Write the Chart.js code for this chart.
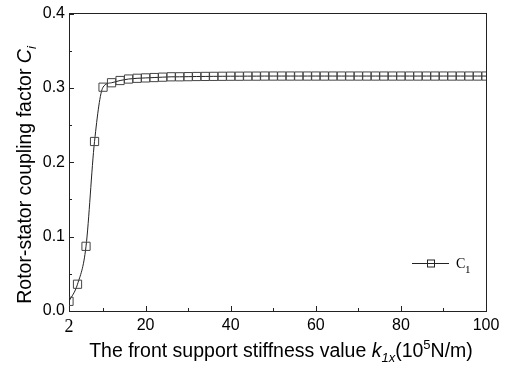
<!DOCTYPE html>
<html>
<head>
<meta charset="utf-8">
<script src="https://cdn.jsdelivr.net/npm/chart.js@4/dist/chart.umd.min.js"></script>
<style>
  html, body { margin: 0; padding: 0; background: #fff; }
  #wrap { width: 507px; height: 368px; }
</style>
</head>
<body>
<div id="wrap"><canvas id="c" width="507" height="368"></canvas></div>
<script>
// stiffness values k1x (10^5 N/m)
const kValues = [];
for (let k = 2; k <= 100; k += 2) kValues.push(k);

// coupling factor C1
const c1Values = [
  0.013, 0.036, 0.087, 0.228, 0.301, 0.307, 0.310, 0.312, 0.313, 0.3135,
  0.314, 0.3145, 0.315, 0.315, 0.3152, 0.3154, 0.3155, 0.3156, 0.3157, 0.3158,
  0.3158, 0.3159, 0.3159, 0.316, 0.316, 0.316, 0.316, 0.316, 0.316, 0.316,
  0.316, 0.316, 0.316, 0.316, 0.316, 0.316, 0.316, 0.316, 0.316, 0.316,
  0.316, 0.316, 0.316, 0.316, 0.316, 0.316, 0.316, 0.316, 0.316, 0.316
];

const xMajor = [2, 20, 40, 60, 80, 100];
const xMinor = [10, 30, 50, 70, 90];
const yMajor = [0, 0.1, 0.2, 0.3, 0.4];
const yMinor = [0.05, 0.15, 0.25, 0.35];

const FONT = '"Liberation Sans", Arial, sans-serif';
const SERIF = '"Liberation Serif", "Times New Roman", serif';
const INK = '#222';

// inward ticks, axis titles with sub/superscripts, legend
const decorations = {
  id: 'decorations',
  afterDraw(chart) {
    const ctx = chart.ctx;
    const xs = chart.scales.x, ys = chart.scales.y;
    const a = chart.chartArea;
    ctx.save();
    ctx.strokeStyle = INK;
    ctx.lineWidth = 1;
    ctx.beginPath();
    xMajor.forEach(v => { const p = Math.round(xs.getPixelForValue(v)) + 0.5; ctx.moveTo(p, a.bottom); ctx.lineTo(p, a.bottom - 5); });
    xMinor.forEach(v => { const p = Math.round(xs.getPixelForValue(v)) + 0.5; ctx.moveTo(p, a.bottom); ctx.lineTo(p, a.bottom - 3); });
    yMajor.forEach(v => { const p = Math.round(ys.getPixelForValue(v)) + 0.5; ctx.moveTo(a.left, p); ctx.lineTo(a.left + 5, p); });
    yMinor.forEach(v => { const p = Math.round(ys.getPixelForValue(v)) + 0.5; ctx.moveTo(a.left, p); ctx.lineTo(a.left + 3, p); });
    ctx.stroke();

    ctx.fillStyle = '#000';
    ctx.textBaseline = 'alphabetic';

    // x title
    const parts = [
      { t: 'The front support stiffness value ', f: '19.5px ' + FONT, dy: 0 },
      { t: 'k', f: 'italic 19.5px ' + FONT, dy: 0 },
      { t: '1x', f: 'italic 13px ' + FONT, dy: 5 },
      { t: '(10', f: '19.5px ' + FONT, dy: 0 },
      { t: '5', f: '13px ' + FONT, dy: -8 },
      { t: 'N/m)', f: '19.5px ' + FONT, dy: 0 }
    ];
    let w = 0;
    parts.forEach(p => { ctx.font = p.f; w += ctx.measureText(p.t).width; });
    let x = 281 - w / 2;
    const by = 357;
    parts.forEach(p => { ctx.font = p.f; ctx.fillText(p.t, x, by + p.dy); x += ctx.measureText(p.t).width; });

    // y title (rotated)
    const yparts = [
      { t: 'Rotor-stator coupling factor ', f: '19.5px ' + FONT, dy: 0 },
      { t: 'C', f: 'italic 19.5px ' + FONT, dy: 0 },
      { t: 'i', f: 'italic 13px ' + FONT, dy: 5 }
    ];
    let yw = 0;
    yparts.forEach(p => { ctx.font = p.f; yw += ctx.measureText(p.t).width; });
    ctx.save();
    ctx.translate(31, 175);
    ctx.rotate(-Math.PI / 2);
    let yx = -yw / 2;
    yparts.forEach(p => { ctx.font = p.f; ctx.fillText(p.t, yx, p.dy); yx += ctx.measureText(p.t).width; });
    ctx.restore();

    // legend
    const ly = 263.5;
    ctx.strokeStyle = INK;
    ctx.beginPath();
    ctx.moveTo(412, ly); ctx.lineTo(449, ly);
    ctx.stroke();
    ctx.strokeRect(427.5, ly - 3.5, 7, 7);
    ctx.font = '14px ' + SERIF;
    ctx.fillText('C', 456, 268);
    ctx.font = '11px ' + SERIF;
    ctx.fillText('1', 465, 273);
    ctx.restore();
  }
};

new Chart(document.getElementById('c'), {
  type: 'line',
  data: {
    labels: kValues,
    datasets: [{
      label: 'C1',
      data: kValues.map((k, i) => ({ x: k, y: c1Values[i] })),
      borderColor: INK,
      borderWidth: 1,
      backgroundColor: 'rgba(0,0,0,0)',
      pointStyle: 'rect',
      pointRadius: 5.8,
      pointBorderColor: '#444',
      pointBorderWidth: 1,
      pointBackgroundColor: 'rgba(0,0,0,0)',
      cubicInterpolationMode: 'monotone',
      fill: false
    }]
  },
  options: {
    responsive: false,
    animation: false,
    layout: { padding: { top: 11, right: 21, left: 0, bottom: 0 } },
    plugins: { legend: { display: false }, tooltip: { enabled: false } },
    scales: {
      x: {
        type: 'linear', min: 2, max: 100,
        afterBuildTicks: s => { s.ticks = xMajor.map(v => ({ value: v })); },
        afterFit: s => { s.height = 57; },
        grid: { display: false, drawTicks: false },
        border: { display: true, color: INK, width: 1 },
        ticks: { color: '#000', padding: 5, maxRotation: 0,
                 font: c => (c.tick && c.tick.value === 2)
                   ? { family: SERIF, size: 18 } : { family: FONT, size: 16 },
                 callback: v => String(v) }
      },
      y: {
        type: 'linear', min: 0, max: 0.4,
        afterBuildTicks: s => { s.ticks = yMajor.map(v => ({ value: v })); },
        afterFit: s => { s.width = 69; },
        grid: { display: false, drawTicks: false },
        border: { display: true, color: INK, width: 1 },
        ticks: { color: '#000', font: { family: FONT, size: 16 }, padding: 4,
                 callback: v => Number(v).toFixed(1) }
      },
      x2: {
        type: 'linear', position: 'top', min: 2, max: 100, display: true,
        afterFit: s => { s.height = 0; },
        grid: { display: false, drawTicks: false },
        border: { display: true, color: INK, width: 1 },
        ticks: { display: false }
      },
      y2: {
        type: 'linear', position: 'right', min: 0, max: 0.4, display: true,
        afterFit: s => { s.width = 0; },
        grid: { display: false, drawTicks: false },
        border: { display: true, color: INK, width: 1 },
        ticks: { display: false }
      }
    }
  },
  plugins: [decorations]
});
</script>
</body>
</html>
